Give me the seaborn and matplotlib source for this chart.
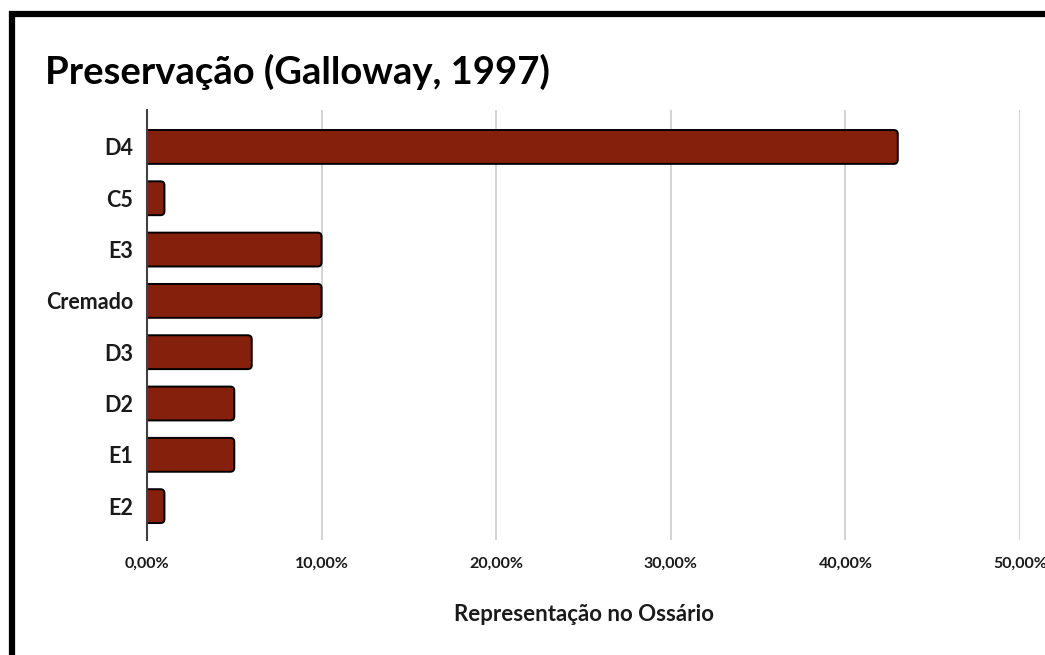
import matplotlib
matplotlib.use("Agg")
import matplotlib.pyplot as plt
import seaborn as sns
import pandas as pd
from matplotlib.patches import FancyBboxPatch, Rectangle
from matplotlib.ticker import FuncFormatter

categories = ["D4", "C5", "E3", "Cremado", "D3", "D2", "E1", "E2"]
values = [43.0, 1.0, 10.0, 10.0, 6.0, 5.0, 5.0, 1.0]
xticks = [0, 10, 20, 30, 40, 50]

title = "Preservação (Galloway, 1997)"
xlabel = "Representação no Ossário"

sns.set_theme(style="white")
plt.rcParams["font.family"] = ["Lato", "DejaVu Sans"]

df = pd.DataFrame({"cat": categories, "val": values})

fig = plt.figure(figsize=(10.45, 6.55), dpi=100)
ax = fig.add_axes([147/1045, 1-540/655, (1020-147)/1045, (540-110)/655])

sns.barplot(data=df, x="val", y="cat", orient="h", color="#85200C",
            width=0.66, ax=ax, saturation=1)

ax.set_xlim(0, 50)
ax.set_ylim(7.66, -0.72)

# replace rectangles with rounded bars
px_x = (1020-147)/50.0
px_y = 51.3
r = 4.0
for p in list(ax.patches):
    x0, y0 = p.get_x(), p.get_y()
    w, h = p.get_width(), p.get_height()
    fb = FancyBboxPatch((x0 - r/px_x, y0), w + r/px_x, h,
                        boxstyle=f"round,pad=0,rounding_size={r/px_x}",
                        mutation_aspect=(px_x/px_y),
                        facecolor="#85200C", edgecolor="black",
                        linewidth=1.4, zorder=3, clip_on=True)
    ax.add_patch(fb)
    p.remove()

ax.set_xticks(xticks)
ax.xaxis.set_major_formatter(FuncFormatter(lambda v, _: f"{v:.2f}".replace(".", ",") + "%"))
ax.grid(axis="x", color="#D0D0D0", linewidth=1.3, zorder=0)
ax.grid(axis="y", visible=False)
for s in ["top", "right", "bottom"]:
    ax.spines[s].set_visible(False)
ax.spines["left"].set_color("#404040")
ax.spines["left"].set_linewidth(1.5)
ax.spines["left"].set_zorder(5)
ax.tick_params(axis="both", length=0)
ax.tick_params(axis="x", pad=12, labelsize=11.5)
ax.tick_params(axis="y", pad=10, labelsize=15.5)
for t in ax.get_xticklabels() + ax.get_yticklabels():
    t.set_fontweight("bold")
    t.set_color("#1a1a1a")
ax.set_ylabel("")
ax.set_xlabel(xlabel, fontsize=16, fontweight="bold", labelpad=24, color="#1a1a1a")

fig.text(45/1045, 1-72/655, title, fontsize=27.5, fontweight="bold",
         va="center", ha="left", color="black")

# outer frame (partially cut off at right/bottom)
fig.patches.append(Rectangle((12/1045, -0.2), 1.5, 1-14/655+0.2,
                             transform=fig.transFigure, fill=False,
                             edgecolor="black", linewidth=4.5, zorder=10))

fig.savefig("out.png", dpi=100)
